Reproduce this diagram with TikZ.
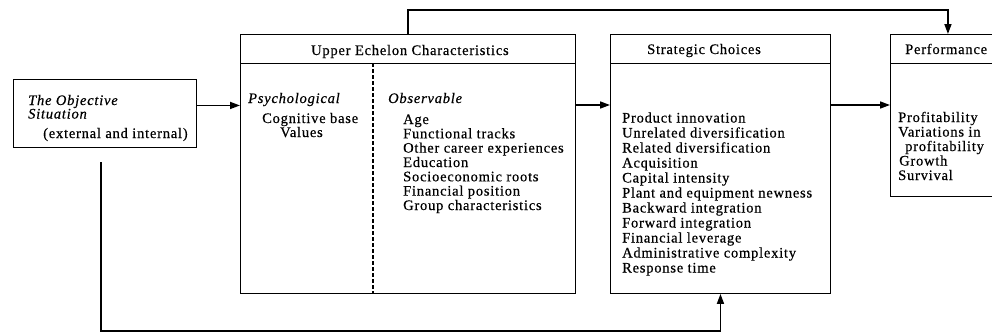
\documentclass[tikz,border=0pt]{standalone}
\usepackage{fontspec}
\setmainfont{Liberation Serif}[LetterSpace=5.4, FakeBold=0.5]
\usetikzlibrary{arrows.meta}
\begin{document}
\begin{tikzpicture}[x=1pt,y=-1pt,
  box/.style={draw, line width=0.9pt, inner sep=0pt, anchor=north west},
  txt/.style={anchor=base west, inner sep=0pt, font=\fontsize{14.5}{15}\selectfont},
  conn/.style={line width=1.6pt},
  arr/.style={conn, -{Triangle[length=10pt,width=7pt]}}
]
\clip (0,0) rectangle (992,335);
% boxes
\node[box, minimum width=183pt, minimum height=68pt] (obj) at (13,79) {};
\node[box, minimum width=335pt, minimum height=259pt] (uec) at (240,34) {};
\node[box, minimum width=220pt, minimum height=259pt] (sc) at (610,34) {};
\node[box, minimum width=115pt, minimum height=162pt] (perf) at (890,34) {};
% header lines
\draw[line width=0.9pt] ([yshift=-29pt]uec.north west) -- ([yshift=-29pt]uec.north east);
\draw[line width=0.9pt] ([yshift=-29pt]sc.north west) -- ([yshift=-29pt]sc.north east);
\draw[line width=0.9pt] ([yshift=-29pt]perf.north west) -- ([yshift=-29pt]perf.north east);
% dashed divider
\coordinate (dtop) at (373,63);
\draw[line width=1.2pt, dash pattern=on 4pt off 2pt] (dtop) -- (dtop |- uec.south);
% connectors
\coordinate (a1) at ([yshift=8pt]obj.east);
\draw[arr] (a1) -- (a1 -| uec.west);
\coordinate (mid) at (0,105);
\draw[arr] (mid -| uec.east) -- (mid -| sc.west);
\draw[arr] (mid -| sc.east) -- (mid -| perf.west);
\coordinate (fb) at (408,10);
\draw[arr] (fb |- uec.north) -- (fb) -- (fb -| perf.north) -- (perf.north);
\coordinate (bl) at (101,162);
\coordinate (bb) at (101,331);
\draw[arr] (bl) -- (bb) -- (bb -| sc.south) -- (sc.south);
% objective text
\node[txt] (o1) at (28,105) {\itshape The Objective};
\node[txt] (o2) at (28,118.5) {\itshape Situation};
\node[txt] (o3) at (43,138) {(external and internal)};
% UEC text
\node[txt] (uect) at (311,55) {Upper Echelon Characteristics};
\node[txt] (ps) at (248,103) {\itshape Psychological};
\node[txt] (ps1) at (262,123) {Cognitive base};
\node[txt] (ps2) at (280,137) {Values};
\node[txt] (ob) at (388,103) {\itshape Observable};
\node[txt] (ob1) at (403,124) {Age};
\node[txt] (ob2) at (403,138.3) {Functional tracks};
\node[txt] (ob3) at (403,152.6) {Other career experiences};
\node[txt] (ob4) at (403,167) {Education};
\node[txt] (ob5) at (403,181.3) {Socioeconomic roots};
\node[txt] (ob6) at (403,195.6) {Financial position};
\node[txt] (ob7) at (403,210) {Group characteristics};
% SC text
\node[txt] (sct) at (647,54) {Strategic Choices};
\node[txt] (s1) at (622,122.5) {Product innovation};
\node[txt] (s2) at (622,137.5) {Unrelated diversification};
\node[txt] (s3) at (622,152.5) {Related diversification};
\node[txt] (s4) at (622,167.5) {Acquisition};
\node[txt] (s5) at (622,182.5) {Capital intensity};
\node[txt] (s6) at (622,197.5) {Plant and equipment newness};
\node[txt] (s7) at (622,212.5) {Backward integration};
\node[txt] (s8) at (622,227.5) {Forward integration};
\node[txt] (s9) at (622,242.5) {Financial leverage};
\node[txt] (s10) at (622,257.5) {Administrative complexity};
\node[txt] (s11) at (622,272.5) {Response time};
% Performance text
\node[txt] (pt) at (905,54) {Performance};
\node[txt] (p1) at (898,122) {Profitability};
\node[txt] (p2) at (898,136.5) {Variations in};
\node[txt] (p3) at (905,151) {profitability};
\node[txt] (p4) at (899,165.5) {Growth};
\node[txt] (p5) at (898,180) {Survival};
\end{tikzpicture}
\end{document}
